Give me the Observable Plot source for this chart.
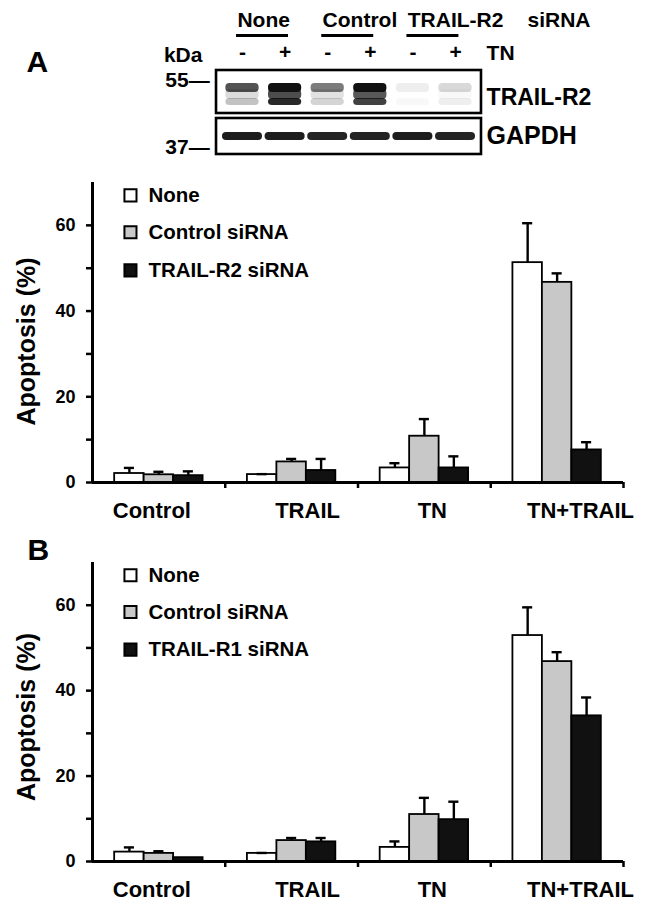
<!DOCTYPE html>
<html><head><meta charset="utf-8">
<script src="https://cdn.jsdelivr.net/npm/d3@7"></script>
<script src="https://cdn.jsdelivr.net/npm/@observablehq/plot@0.6"></script>
<style>
body{margin:0;background:#fff;}
#root{position:relative;width:649px;height:906px;font-family:"Liberation Sans",Arial,sans-serif;}
#root svg{position:absolute;left:0;overflow:visible;background:transparent}
</style></head><body><div id="root"></div>
<script>
// ---------- data ----------
const categories = ["Control", "TRAIL", "TN", "TN+TRAIL"];
const seriesA = ["None", "Control siRNA", "TRAIL-R2 siRNA"];
const seriesB = ["None", "Control siRNA", "TRAIL-R1 siRNA"];

const noneA    = [2.1, 1.85, 3.4, 51.3];
const ctrlA    = [1.8, 4.8, 10.8, 46.7];
const r2A      = [1.6, 2.8, 3.4, 7.6];
const noneAErr = [1.3, 0.1, 1.1, 9.2];
const ctrlAErr = [0.7, 0.7, 4.0, 2.1];
const r2AErr   = [1.0, 2.7, 2.7, 1.8];

const noneB    = [2.2, 1.9, 3.3, 52.9];
const ctrlB    = [1.9, 4.9, 11.0, 46.8];
const r1B      = [0.9, 4.6, 9.8, 34.1];
const noneBErr = [1.1, 0.1, 1.4, 6.6];
const ctrlBErr = [0.5, 0.6, 3.9, 2.2];
const r1BErr   = [0.0, 0.9, 4.2, 4.3];

const yTicks = [0, 10, 20, 30, 40, 50, 60];

// western blot (band darkness per lane, 0..1)
const blotGroups = ["None", "Control", "TRAIL-R2"];
const tnSigns = ["-", "+", "-", "+", "-", "+"];
const upperBand = [0.72, 1.0, 0.55, 1.0, 0.07, 0.16];
const smearBand = [0.15, 0.75, 0.12, 0.7, 0.0, 0.03];
const lowerBand = [0.25, 0.9, 0.18, 0.8, 0.03, 0.07];
const gapdhBand = [0.95, 0.95, 0.92, 0.92, 0.95, 0.92];

// ---------- layout ----------
const W = 649;
const FONT = "Liberation Sans, Arial, Helvetica, sans-serif";
const root = document.getElementById("root");
const colors = ["#ffffff", "#c8c8c8", "#111111"];
const labelShift = [-0.053, 0.12, 0.06, 0.176];

function thickenAxes(svg) {
  d3.select(svg).selectAll('[aria-label^="y-axis"] line, [aria-label^="y-axis"] path, [aria-label^="x-axis"] line, [aria-label^="x-axis"] path')
    .attr("stroke-width", 2.5);
}

function panel(series, vals, errs, opts) {
  const rows = [];
  categories.forEach((c, i) => series.forEach((s, j) =>
    rows.push({cat: c, ci: i, s, sj: j, v: vals[j][i], e: errs[j][i]})));
  const bw = 0.222;
  const bx1 = d => d.ci + 0.5 + (d.sj - 1.5) * bw;
  const bxc = d => d.ci + 0.5 + (d.sj - 1) * bw;
  const legendRows = series.map((s, j) => ({s, j}));
  const chart = Plot.plot({
    width: W, height: opts.height,
    marginLeft: 92, marginRight: 26, marginTop: opts.marginTop, marginBottom: opts.marginBottom,
    style: {fontFamily: FONT, fontWeight: "bold", fontSize: "18px", color: "#000", background: "transparent"},
    x: {domain: [0, 4], ticks: [1, 2, 3, 4], tickSize: 6, tickFormat: () => "", label: null},
    y: {domain: [0, 70], ticks: yTicks, tickSize: 6, tickPadding: 11, tickFormat: d => d % 20 === 0 ? d : "", label: null},
    color: {domain: series, range: colors},
    marks: [
      Plot.rectY(rows, {x1: bx1, x2: d => bx1(d) + bw, y1: 0, y2: "v", fill: "s", stroke: "#000", strokeWidth: 1.8}),
      Plot.ruleX(rows.filter(d => d.e > 0), {x: bxc, y1: "v", y2: d => d.v + d.e, strokeWidth: 2.4}),
      Plot.ruleY(rows.filter(d => d.e > 0), {y: d => d.v + d.e, x1: d => bxc(d) - 0.038, x2: d => bxc(d) + 0.038, strokeWidth: 2.4}),
      Plot.ruleY([0], {strokeWidth: 2.8}),
      Plot.ruleX([0], {y1: 0, y2: 70, strokeWidth: 3}),
      Plot.text(categories, {x: (d, i) => i + 0.5 + labelShift[i], y: () => 0, dy: 28, text: d => d, fontSize: 22, fontWeight: "bold"}),
      Plot.dot(legendRows, {x: () => 0.286, y: d => opts.legendY[d.j], symbol: "square", r: 6.8, fill: "s", stroke: "#000", strokeWidth: 2}),
      Plot.text(legendRows, {x: () => 0.286, y: d => opts.legendY[d.j], dx: 18, text: "s", textAnchor: "start", fontSize: 20.5, fontWeight: "bold"}),
      Plot.text(["Apoptosis (%)"], {frameAnchor: "left", textAnchor: "middle", dx: -66, dy: opts.labelDy, rotate: -90, text: d => d, fontSize: 25, fontWeight: "bold"}),
      Plot.text([opts.letter], {x: () => opts.letterX, y: () => opts.letterY, text: d => d, fontSize: 30, fontWeight: "bold", textAnchor: "start"})
    ]
  });
  chart.style.top = opts.top + "px";
  thickenAxes(chart);
  root.appendChild(chart);
}

// ---------- blot ----------
(function blot() {
  const lanes = tnSigns.map((t, i) => ({i, t}));
  const bands = [];
  lanes.forEach(l => {
    bands.push({i: l.i, y1: 83, y2: 92, k: upperBand[l.i], w: 0.11});
    bands.push({i: l.i, y1: 89, y2: 99, k: smearBand[l.i], w: 0.11});
    bands.push({i: l.i, y1: 98, y2: 105, k: lowerBand[l.i], w: 0.11});
    bands.push({i: l.i, y1: 132, y2: 140, k: gapdhBand[l.i], w: 0.03});
  });
  const groups = blotGroups.map((g, k) => ({g, k}));
  const boxes = [{y1: 70, y2: 113}, {y1: 118, y2: 154}];
  const chart = Plot.plot({
    width: W, height: 165,
    marginLeft: 220.7, marginRight: 172.7, marginTop: 0, marginBottom: 0,
    style: {fontFamily: FONT, fontWeight: "bold", color: "#000", background: "transparent"},
    x: {domain: [0, 6], axis: null},
    y: {domain: [0, 165], range: [0, 165], axis: null},
    marks: [
      Plot.rect(bands, {x1: d => d.i + d.w, x2: d => d.i + 1 - d.w, y1: "y1", y2: "y2", fill: "#111", fillOpacity: "k", rx: 4, ariaLabel: "bands"}),
      Plot.rect(boxes, {x1: -0.11, x2: 6.11, y1: "y1", y2: "y2", fill: "none", stroke: "#000", strokeWidth: 2.6}),
      Plot.text(groups, {x: d => 2 * d.k + 0.38, y: () => 20, text: "g", textAnchor: "start", fontSize: 21}),
      Plot.ruleY(groups, {y: () => 35, x1: d => 2 * d.k + 0.36, x2: d => 2 * d.k + 1.58, strokeWidth: 2.8}),
      Plot.text(["siRNA"], {x: () => 7.19, y: () => 20, text: d => d, textAnchor: "start", fontSize: 21}),
      Plot.text(lanes, {x: d => d.i + 0.5, y: () => 52, text: "t", fontSize: 21}),
      Plot.text(["TN"], {x: () => 6.23, y: () => 53, text: d => d, textAnchor: "start", fontSize: 21}),
      Plot.text(["kDa"], {x: () => -0.44, y: () => 55, text: d => d, textAnchor: "end", fontSize: 21}),
      Plot.text(["55—"], {x: () => -0.27, y: () => 80, text: d => d, textAnchor: "end", fontSize: 21}),
      Plot.text(["37—"], {x: () => -0.27, y: () => 147, text: d => d, textAnchor: "end", fontSize: 21}),
      Plot.text(["TRAIL-R2"], {x: () => 6.23, y: () => 97, text: d => d, textAnchor: "start", fontSize: 23}),
      Plot.text(["GAPDH"], {x: () => 6.23, y: () => 135, text: d => d, textAnchor: "start", fontSize: 25}),
      Plot.text(["A"], {x: () => -4.57, y: () => 62, text: d => d, textAnchor: "start", fontSize: 30})
    ]
  });
  const svg = d3.select(chart);
  const defs = svg.insert("defs", ":first-child");
  defs.append("filter").attr("id", "blotblur").attr("x", "-20%").attr("y", "-50%").attr("width", "140%").attr("height", "200%")
    .append("feGaussianBlur").attr("stdDeviation", 2.6);
  svg.select('g[aria-label="bands"]').attr("filter", "url(#blotblur)");
  chart.style.top = "0px";
  root.appendChild(chart);
})();

panel(seriesA, [noneA, ctrlA, r2A], [noneAErr, ctrlAErr, r2AErr],
  {top: 170, height: 360, marginTop: 12, marginBottom: 48, legendY: [67, 58.4, 49.5], labelDy: 9, letter: "", letterX: 0, letterY: 0});
panel(seriesB, [noneB, ctrlB, r1B], [noneBErr, ctrlBErr, r1BErr],
  {top: 530, height: 376, marginTop: 32, marginBottom: 45, legendY: [67, 58.4, 49.6], labelDy: 5, letter: "B", letterX: -0.49, letterY: 72.8});
</script>
</body></html>
